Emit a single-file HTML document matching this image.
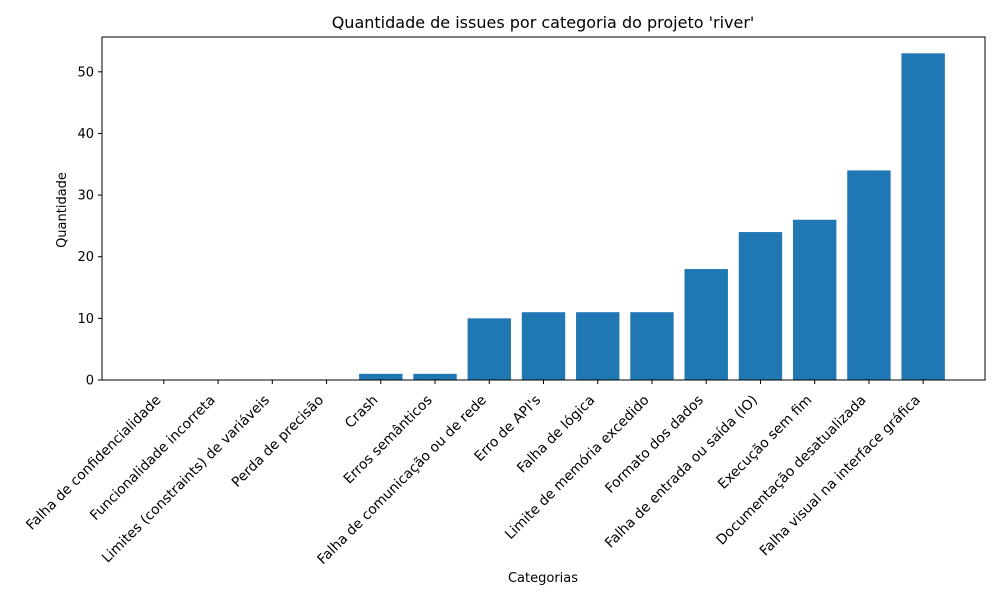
<!DOCTYPE html>
<html><head><meta charset="utf-8"><style>
body{margin:0;background:#fff;}
svg{font-family:"DejaVu Sans","Liberation Sans",sans-serif;}
</style></head><body>
<svg id="chart" width="1000" height="600" viewBox="0 0 1000 600">
<rect width="1000" height="600" fill="#fff"/>
<text x="543" y="28" text-anchor="middle" font-size="16">Quantidade de issues por categoria do projeto 'river'</text>
<g id="bars"></g><g id="yticks"></g><g id="xticks"></g>
<rect x="102" y="37" width="883" height="343" fill="none" stroke="#000" stroke-width="1"/>
<text x="543" y="582" text-anchor="middle" font-size="13">Categorias</text>
<text transform="translate(66,210) rotate(-90)" text-anchor="middle" font-size="13">Quantidade</text>
</svg>
<script>
const categories=["Falha de confidencialidade","Funcionalidade incorreta","Limites (constraints) de variáveis","Perda de precisão","Crash","Erros semânticos","Falha de comunicação ou de rede","Erro de API's","Falha de lógica","Limite de memória excedido","Formato dos dados","Falha de entrada ou saída (IO)","Execução sem fim","Documentação desatualizada","Falha visual na interface gráfica"];
const values=[0,0,0,0,1,1,10,11,11,11,18,24,26,34,53];
const yTicks=[0,10,20,30,40,50];
const NS="http://www.w3.org/2000/svg";
const L=102,R=985,T=37,B=380;
const n=categories.length;
const xmin=-0.4-0.05*(n-1+0.8),xmax=n-1+0.4+0.05*(n-1+0.8);
const ymax=Math.max(...values)*1.05;
const xs=v=>L+(v-xmin)/(xmax-xmin)*(R-L);
const ys=v=>B-v/ymax*(B-T);
function mk(tag,attrs,parent){const e=document.createElementNS(NS,tag);for(const k in attrs)e.setAttribute(k,attrs[k]);parent.appendChild(e);return e;}
const gb=document.getElementById('bars'),gx=document.getElementById('xticks'),gy=document.getElementById('yticks');
values.forEach((v,i)=>{
  const r=mk('rect',{x:xs(i-0.4),y:ys(v),width:xs(i+0.4)-xs(i-0.4),height:B-ys(v),fill:'#1f77b4'},gb);
  
  
  const cx=xs(i);
  mk('line',{x1:cx,x2:cx,y1:B,y2:B+4,stroke:'#000'},gx);
  const t=mk('text',{transform:`translate(${cx-9},${B+14}) rotate(-45)`,'text-anchor':'end','dominant-baseline':'hanging','font-size':13.8},gx);
  t.textContent=categories[i];
  
  
});
yTicks.forEach(v=>{
  const y=ys(v);
  mk('line',{x1:L-4,x2:L,y1:y,y2:y,stroke:'#000'},gy);
  const t=mk('text',{x:L-8,y:y+4.5,'text-anchor':'end','font-size':13},gy);
  t.textContent=v;
  
  
});
</script>
</body></html>
